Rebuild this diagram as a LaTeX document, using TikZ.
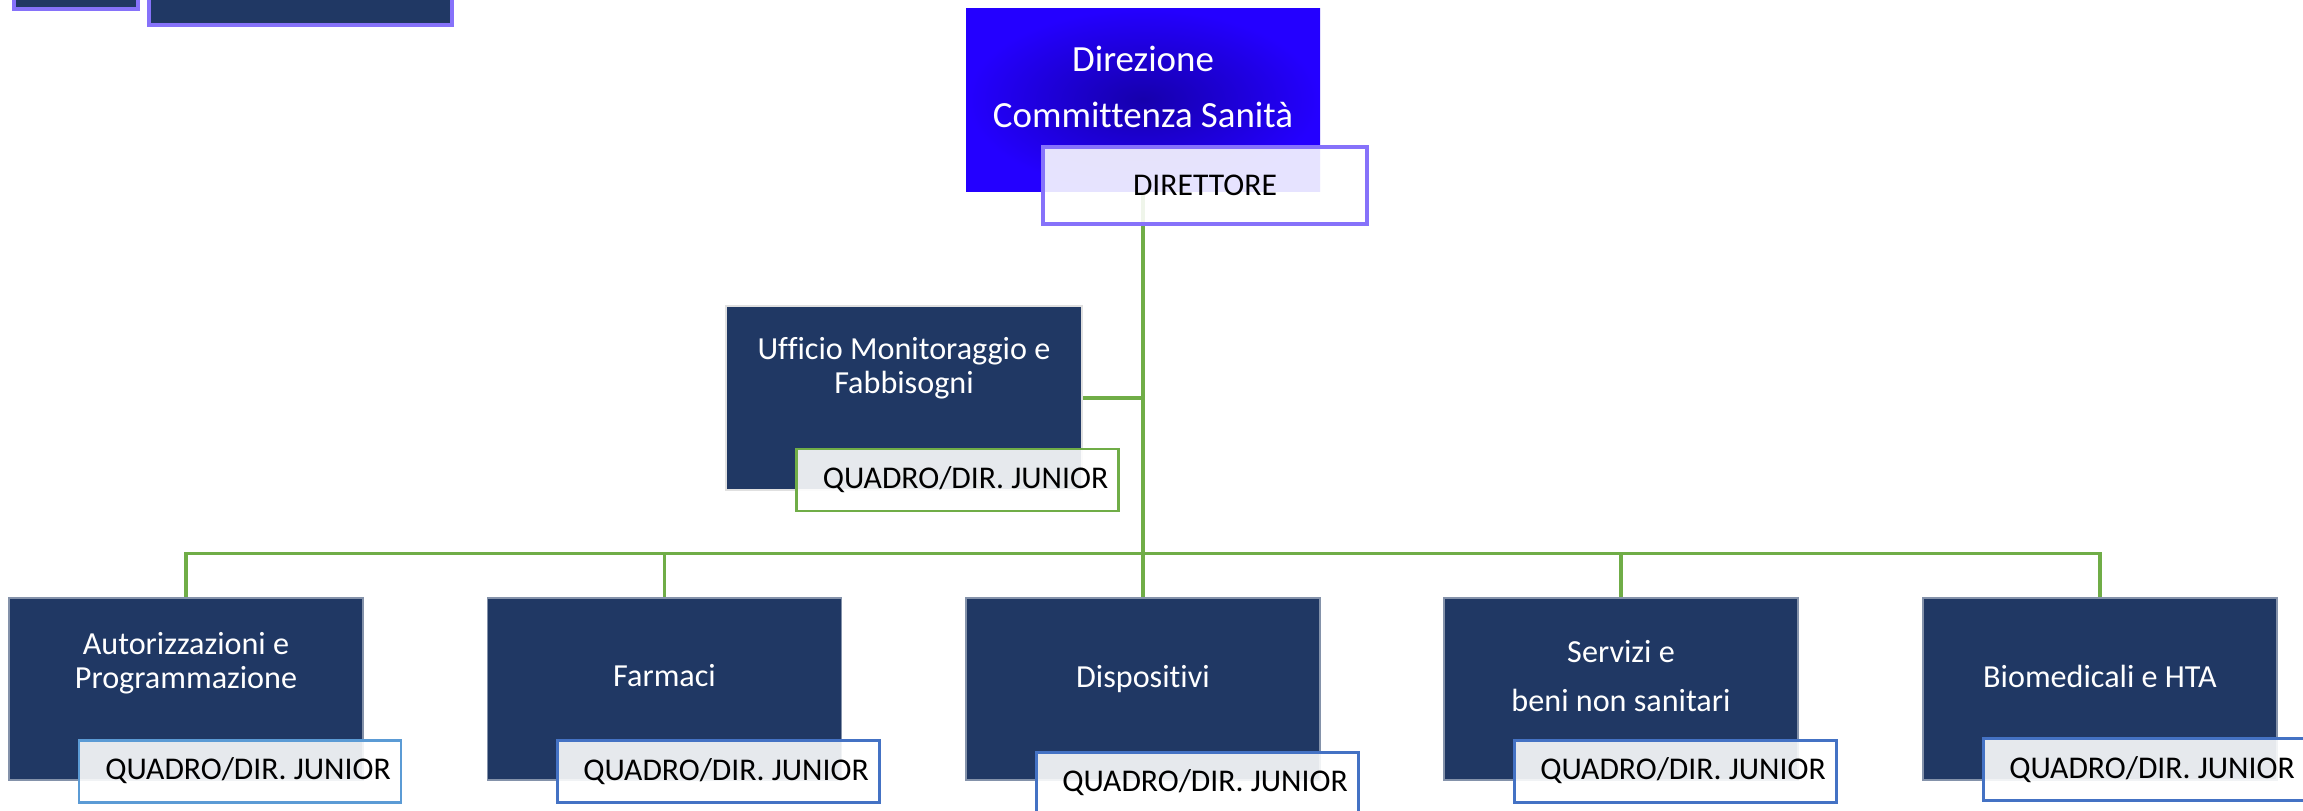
\documentclass[tikz,border=0pt]{standalone}
\usepackage{fontspec}
\setmainfont{Carlito}[Ligatures=NoCommon]
\usepackage{tikz}
\usetikzlibrary{%
  positioning,% wg. " of "
  calc%
}

\definecolor{navy}{RGB}{32,56,100}
\definecolor{dirpurple}{RGB}{134,114,250}
\definecolor{orggreen}{RGB}{112,173,71}
\definecolor{qblue}{RGB}{68,114,196}
\definecolor{qlight}{RGB}{91,155,213}
\definecolor{titledark}{RGB}{22,0,172}
\definecolor{titlebright}{RGB}{36,0,255}

\begin{document}
\begin{tikzpicture}[
  unitbox/.style={rectangle, fill=navy, draw=navy!55!white, line width=0.3pt,
    minimum width=3.54cm, minimum height=1.82cm, inner sep=0pt},
  unittext/.style={text=white, align=center, inner sep=0pt,
    font=\fontsize{9.15}{9.8}\selectfont},
  quadrobox/.style={rectangle, fill=white, fill opacity=0.89, text opacity=1,
    line width=0.85pt, minimum width=3.22cm, minimum height=0.62cm, inner sep=0pt,
    font=\fontsize{9}{10}\selectfont},
  quadropad/.style={execute at begin node=\hspace{1.6mm}},
  titlebox/.style={rectangle, inner color=titledark, outer color=titlebright,
    minimum width=3.54cm, minimum height=1.82cm},
  cornerbox/.style={rectangle, fill=navy, draw=dirpurple, line width=1.2pt},
  busline/.style={draw=orggreen, line width=0.9pt}
]

\useasboundingbox (0,0) rectangle (23.03,-8.11);

\node[cornerbox, minimum width=1.24cm, minimum height=1cm] (corner-a) at (0.76,0.41) {};
\node[cornerbox, minimum width=3.03cm, minimum height=1cm] (corner-b) at (3.005,0.25) {};

\foreach \nm/\cx/\txt/\ty/\qx/\qy/\qc in {
  autor/1.86/{Autorizzazioni e\\Programmazione}/0.26/0.54/-0.82/qlight,
  farm/6.645/Farmaci/0.13/0.535/-0.825/qblue,
  dispo/11.43/Dispositivi/0.10/0.54/-0.94/qblue,
  serv/16.21/{Servizi e\\[4.1pt]beni non sanitari}/0.13/0.54/-0.82/qblue,
  bio/21.00/Biomedicali e HTA/0.13/0.44/-0.805/qblue} {
  \node[unitbox] (\nm) at (\cx,-6.89) {};
  \node[unittext] (\nm-t) at ([yshift=\ty cm]\nm.center) {\txt};
  \node[quadrobox, quadropad, draw=\qc] (\nm-q) at ([xshift=\qx cm, yshift=\qy cm]\nm.center) {QUADRO/DIR. JUNIOR};
}

\node[unitbox, draw=black!12, line width=0.7pt, minimum width=3.56cm, minimum height=1.84cm] (uff) at (9.04,-3.98) {};
\node[unittext] (uff-t) at ([yshift=0.30cm]uff.center) {Ufficio Monitoraggio e\\Fabbisogni};
\node[quadrobox, quadropad, draw=orggreen] (uff-q) at ([xshift=0.535cm, yshift=-0.82cm]uff.center) {QUADRO/DIR. JUNIOR};

\node[titlebox] (title) at (11.43,-1.00) {};
\node[unittext, font=\fontsize{10.5}{15.9}\selectfont] (title-t) at ([yshift=0.13cm]title.center) {Direzione\\Committenza Sanità};

\coordinate (bus) at ([yshift=0.44cm]dispo.north);
\draw[busline] (title.south) -- (dispo.north);
\draw[busline] (autor.north) -- (autor.north |- bus) -- (bio.north |- bus) -- (bio.north);
\foreach \nm in {farm,serv} {
  \draw[busline] (\nm.north) -- (\nm.north |- bus);
}
\draw[busline] (uff.east) -- (uff.east -| title.south);

\node[quadrobox, draw=dirpurple, line width=1.1pt, minimum width=3.24cm, minimum height=0.77cm,
  font=\fontsize{9}{10}\selectfont] (dir) at (12.05,-1.855) {DIRETTORE};

\end{tikzpicture}
\end{document}
